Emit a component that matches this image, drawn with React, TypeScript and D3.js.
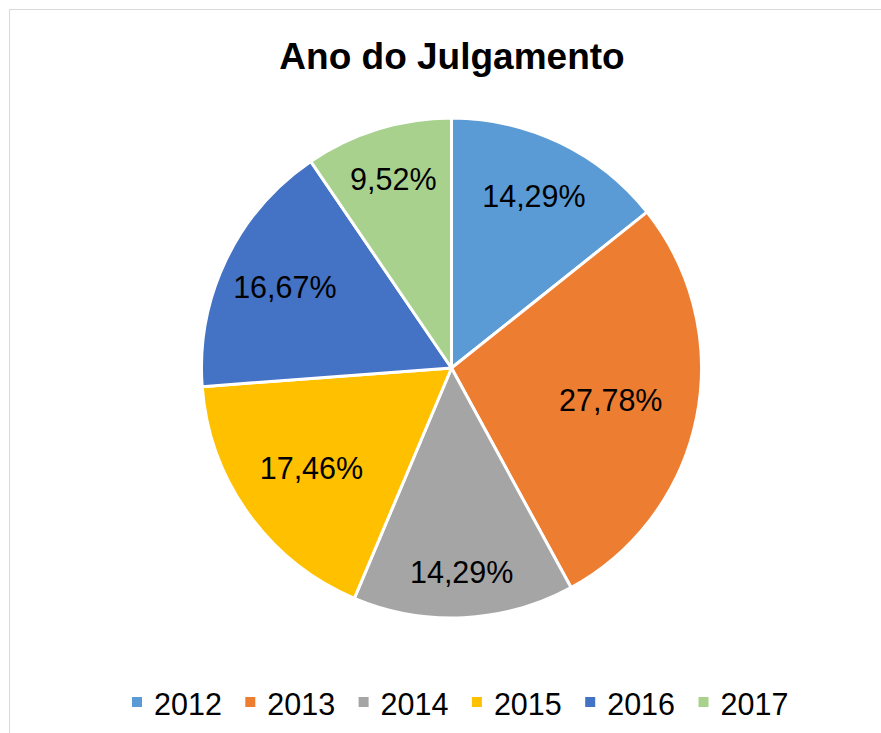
import React from "react";
import * as d3 from "d3";

const categories = ["2012", "2013", "2014", "2015", "2016", "2017"];
const values = [14.29, 27.78, 14.29, 17.46, 16.67, 9.52];
const labels = ["14,29%", "27,78%", "14,29%", "17,46%", "16,67%", "9,52%"];
const colors = ["#5B9BD5", "#ED7D31", "#A5A5A5", "#FFC000", "#4472C4", "#A9D18E"];
// label placement (fraction of radius), Excel "best fit" look
const labelRadiusFactor = [0.76, 0.65, 0.82, 0.69, 0.74, 0.79];

const W = 881;
const H = 733;
const cx = 451.5;
const cy = 368;
const R = 250;
const FONT = "'Liberation Sans', Arial, Helvetica, sans-serif";

export default function App() {
  const pie = d3.pie<number>().sort(null).value((d) => d)(values);
  const arc = d3.arc<d3.PieArcDatum<number>>().innerRadius(0).outerRadius(R);

  const legendX = d3.scaleBand<string>().domain(categories).range([132, 132 + 113.3 * 6]);

  return (
    <svg width={W} height={H} style={{ position: "absolute", left: 0, top: 0 }} fontFamily={FONT}>
      <rect x={0} y={0} width={W} height={H} fill="#fff" />
      <rect x={9.5} y={9.5} width={W + 20} height={H + 20} fill="#fff" stroke="#d9d9d9" strokeWidth={1} />
      <text x={452} y={69} textAnchor="middle" fontSize={37} fontWeight="bold" fill="#000">
        Ano do Julgamento
      </text>
      <g transform={`translate(${cx},${cy})`}>
        {pie.map((p, i) => (
          <path key={i} d={arc(p) || ""} fill={colors[i]} stroke="#fff" strokeWidth={3} strokeLinejoin="round" />
        ))}
        {pie.map((p, i) => {
          const a = (p.startAngle + p.endAngle) / 2;
          const r = R * labelRadiusFactor[i];
          const x = Math.sin(a) * r;
          const y = -Math.cos(a) * r;
          return (
            <text key={"l" + i} x={x} y={y + 10.5} textAnchor="middle" fontSize={30.5} fill="#000">
              {labels[i]}
            </text>
          );
        })}
      </g>
      <g>
        {categories.map((c, i) => {
          const x = legendX(c) as number;
          return (
            <g key={c}>
              <rect x={x} y={697} width={10} height={10} fill={colors[i]} />
              <text x={x + 22} y={715} fontSize={30.5} fill="#000">
                {c}
              </text>
            </g>
          );
        })}
      </g>
    </svg>
  );
}
